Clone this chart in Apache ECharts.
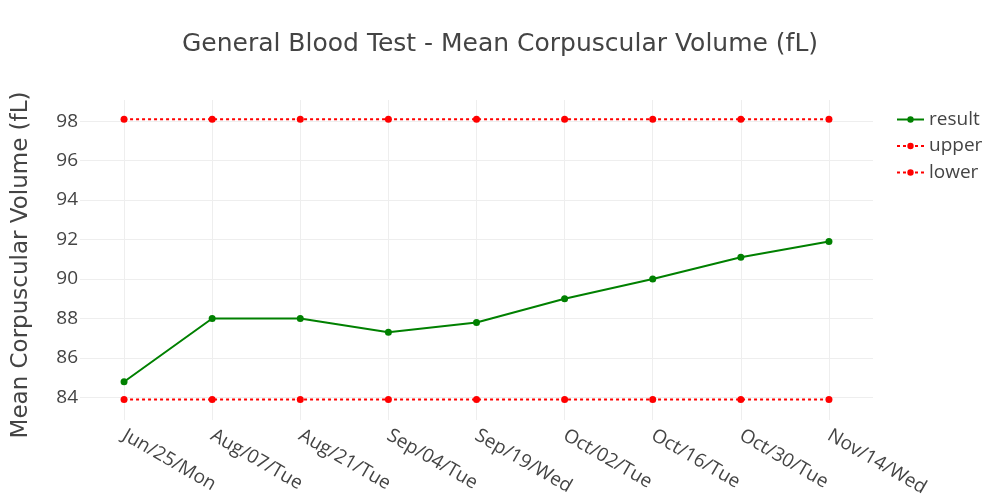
<!DOCTYPE html>
<html>
<head>
<meta charset="utf-8">
<title>General Blood Test - MCV</title>
<script src="https://cdn.jsdelivr.net/npm/echarts@6/dist/echarts.min.js"></script>
<style>
  html, body { margin: 0; padding: 0; background: #fff; }
  #chart { width: 1000px; height: 500px; }
</style>
</head>
<body>
<div id="chart"></div>
<script>
var dates = ['Jun/25/Mon', 'Aug/07/Tue', 'Aug/21/Tue', 'Sep/04/Tue', 'Sep/19/Wed',
  'Oct/02/Tue', 'Oct/16/Tue', 'Oct/30/Tue', 'Nov/14/Wed']
var resultValues = [84.8, 88.0, 88.0, 87.3, 87.8, 89.0, 90.0, 91.1, 91.9]
var upperValues = [98.1, 98.1, 98.1, 98.1, 98.1, 98.1, 98.1, 98.1, 98.1]
var lowerValues = [83.9, 83.9, 83.9, 83.9, 83.9, 83.9, 83.9, 83.9, 83.9]
var yMin = 82.86
var yMax = 99.07

var font = '"Open Sans", "DejaVu Sans", sans-serif'
var titleFont = '"DejaVu Sans", Verdana, sans-serif'
var textColor = '#444'

var chart = echarts.init(document.getElementById('chart'))

function limitSeries(name, data) {
  return {
    name: name,
    type: 'line',
    data: data,
    symbol: 'circle',
    symbolSize: 7,
    color: '#ff0000',
    lineStyle: { color: '#ff0000', width: 2, type: [3, 3] },
    itemStyle: { color: '#ff0000' },
    emphasis: { disabled: true }
  }
}

chart.setOption({
  backgroundColor: '#fff',
  animation: false,
  title: {
    text: 'General Blood Test - Mean Corpuscular Volume (fL)',
    left: 'center',
    top: 27,
    textStyle: {
      fontFamily: titleFont,
      fontWeight: 'normal',
      fontSize: 25,
      color: textColor
    }
  },
  legend: {
    orient: 'vertical',
    left: 891,
    top: 105,
    itemWidth: 27,
    itemHeight: 8,
    itemGap: 7.5,
    data: ['result', 'upper', 'lower'],
    textStyle: {
      fontFamily: font,
      fontSize: 19,
      color: textColor
    }
  },
  grid: {
    left: 80,
    right: 127,
    top: 100,
    bottom: 80
  },
  xAxis: {
    type: 'category',
    boundaryGap: true,
    data: dates,
    axisLine: { show: false },
    axisTick: { show: false },
    axisLabel: {
      rotate: -30,
      margin: 14,
      fontFamily: font,
      fontSize: 19,
      color: textColor
    },
    splitLine: {
      show: true,
      alignWithLabel: true,
      lineStyle: { color: '#eeeeee', width: 1 }
    }
  },
  yAxis: {
    type: 'value',
    min: yMin,
    max: yMax,
    minInterval: 2,
    maxInterval: 2,
    name: 'Mean Corpuscular Volume (fL)',
    nameLocation: 'middle',
    nameGap: 47,
    nameTextStyle: {
      fontFamily: titleFont,
      fontSize: 23,
      color: textColor,
      padding: [0, 10, 0, 0]
    },
    axisLine: { show: false },
    axisTick: { show: false },
    axisLabel: {
      showMinLabel: false,
      showMaxLabel: false,
      margin: 2,
      fontFamily: font,
      fontSize: 19,
      color: textColor
    },
    splitLine: {
      show: true,
      showMinLine: false,
      showMaxLine: false,
      lineStyle: { color: '#eeeeee', width: 1 }
    }
  },
  series: [
    {
      name: 'result',
      type: 'line',
      data: resultValues,
      symbol: 'circle',
      symbolSize: 7,
      color: '#008000',
      lineStyle: { color: '#008000', width: 2 },
      itemStyle: { color: '#008000' },
      emphasis: { disabled: true }
    },
    limitSeries('upper', upperValues),
    limitSeries('lower', lowerValues)
  ]
})
</script>
</body>
</html>
